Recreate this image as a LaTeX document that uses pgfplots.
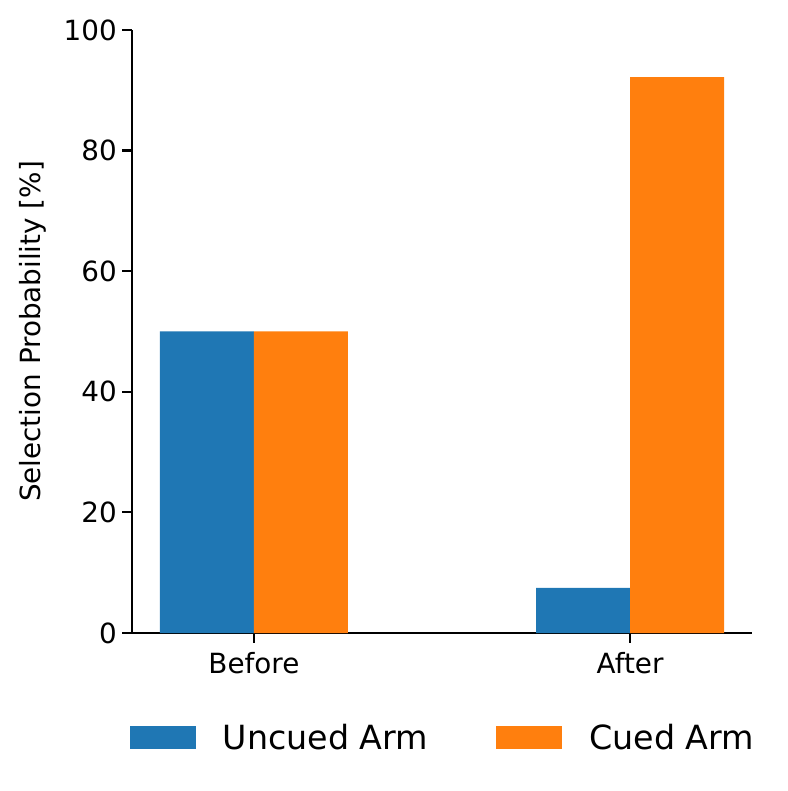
\documentclass[border=0pt]{standalone}
\usepackage{fontspec}
\setmainfont{DejaVu Sans}
\usepackage{pgfplots}
\pgfplotsset{compat=1.18}
\definecolor{mblue}{HTML}{1F77B4}
\definecolor{morange}{HTML}{FF7F0E}
\begin{document}
\begin{tikzpicture}
\begin{axis}[
  scale only axis,
  width=620pt, height=603pt,
  at={(0,0)}, anchor=south west,
  ybar=0pt, bar width=94pt,
  xmin=-0.324, xmax=1.324,
  ymin=0, ymax=100,
  xtick={0,1}, xticklabels={Before,After},
  ytick={0,20,40,60,80,100},
  axis x line*=bottom, axis y line*=left,
  axis line style={line width=2.2pt},
  tick align=outside,
  major tick length=9.7pt,
  every tick/.style={line width=2.2pt, black},
  /pgf/number format/assume math mode=true,
  tick label style={font=\fontsize{27.8}{33}\selectfont},
  yticklabel style={xshift=-2pt},
  xticklabel style={yshift=-6pt},
  ylabel={Selection Probability [\%]},
  ylabel style={font=\fontsize{27.8}{33}\selectfont, at={(axis description cs:-0.16,0.5)}, anchor=center},
  legend columns=2,
  legend style={draw=none, fill=none, at={(0.5,-0.174)}, anchor=center,
    font=\fontsize{33.3}{40}\selectfont,
    nodes={inner sep=0pt},
    /tikz/every odd column/.append style={column sep=27pt},
    /tikz/every even column/.append style={column sep=68pt}},
  legend image code/.code={\fill[#1] (0pt,-11.5pt) rectangle (66pt,11.5pt);},
]
\addplot[fill=mblue, draw=none] coordinates {(0,50) (1,7.5)};
\addplot[fill=morange, draw=none] coordinates {(0,50) (1,92.2)};
\legend{Uncued Arm, Cued Arm}
\end{axis}
\path (current axis.south west) ++(-132pt,-158pt) rectangle ++(787pt,791pt);
\end{tikzpicture}
\end{document}
